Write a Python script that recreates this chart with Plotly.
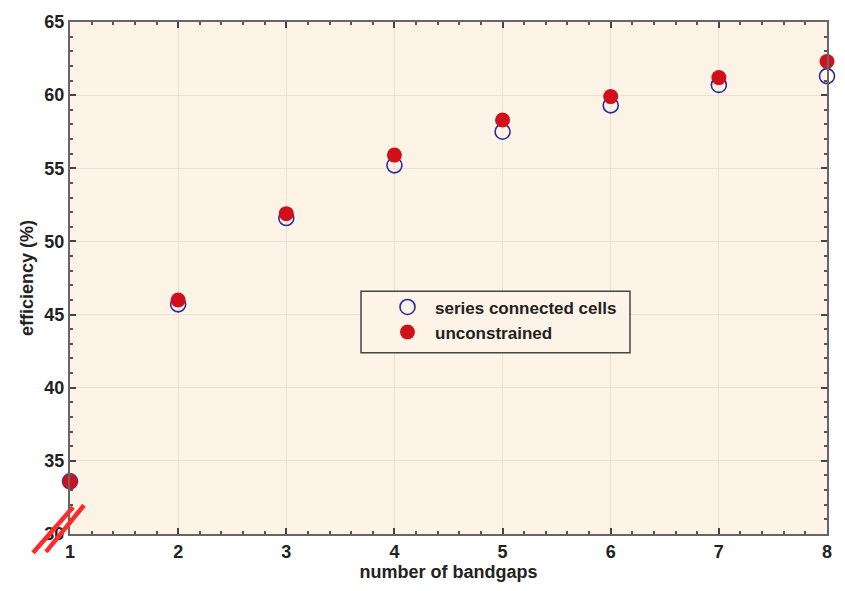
import plotly.graph_objects as go

# Number of bandgaps in the stack
bandgaps = [1, 2, 3, 4, 5, 6, 7, 8]
# Limiting efficiency (%) for series connected cells
series_eff = [33.6, 45.7, 51.6, 55.2, 57.5, 59.3, 60.7, 61.3]
# Limiting efficiency (%) without current matching constraint
unconstrained_eff = [33.6, 46.0, 51.9, 55.9, 58.3, 59.9, 61.2, 62.3]

W, H = 845, 591
ML, MR, MT, MB = 70, 18, 17, 57
PW, PH = W - ML - MR, H - MT - MB

def fx(px):
    return (px - ML) / PW

def fy(py):
    return (H - MB - py) / PH

BG = "#fdf3e6"

fig = go.Figure()
fig.add_trace(go.Scatter(
    x=bandgaps, y=series_eff, mode="markers", name="series connected cells",
    marker=dict(symbol="circle-open", size=15, color="#2a2aa0", line=dict(width=1.6)),
    cliponaxis=False,
))
fig.add_trace(go.Scatter(
    x=bandgaps, y=unconstrained_eff, mode="markers", name="unconstrained",
    marker=dict(symbol="circle", size=15, color="#d0101a", line=dict(width=0)),
    cliponaxis=False,
))

axis_common = dict(
    showline=True, linecolor="#666666", linewidth=2, mirror="ticks",
    ticks="inside", ticklen=6, tickcolor="#444444", tickwidth=1.5,
    showgrid=True, gridcolor="#ebe1d0", gridwidth=1,
    zeroline=False, tickfont=dict(size=18, color="#222222", weight="bold"),
)

fig.update_layout(
    width=W, height=H,
    margin=dict(l=ML, r=MR, t=MT, b=MB),
    paper_bgcolor="white", plot_bgcolor=BG,
    font=dict(family="Liberation Sans, Arial, sans-serif", size=15, color="#222222"),
    xaxis=dict(range=[1, 8], dtick=1,
               title=dict(text="number of bandgaps", font=dict(size=18, weight="bold"), standoff=4),
               minor=dict(dtick=0.2, ticks="inside", ticklen=3, tickcolor="#555555", showgrid=False),
               **axis_common),
    yaxis=dict(range=[30, 65], dtick=5,
               title=dict(text="efficiency (%)", font=dict(size=18, weight="bold"), standoff=6),
               minor=dict(dtick=1, ticks="inside", ticklen=3, tickcolor="#555555", showgrid=False),
               **axis_common),
    legend=dict(x=fx(380), y=fy(287), xanchor="left", yanchor="top",
                bgcolor="rgba(0,0,0,0)", borderwidth=0,
                font=dict(size=17, color="#222222", weight="bold"), itemwidth=45,
                tracegroupgap=0),
    showlegend=True,
)

# Legend frame
fig.add_shape(type="rect", xref="paper", yref="paper", layer="above",
              x0=fx(361), x1=fx(630), y0=fy(351), y1=fy(289),
              fillcolor=BG, line=dict(color="#444444", width=1.5))

# Red axis-break slashes across the lower-left corner
for (x0, y0, x1, y1) in [(33, 553, 73, 507), (46, 552, 84, 505)]:
    fig.add_shape(type="line", xref="paper", yref="paper", layer="above",
                  x0=fx(x0), y0=fy(y0), x1=fx(x1), y1=fy(y1),
                  line=dict(color="#ff2a2a", width=4.5))

fig.write_html("out.html")
